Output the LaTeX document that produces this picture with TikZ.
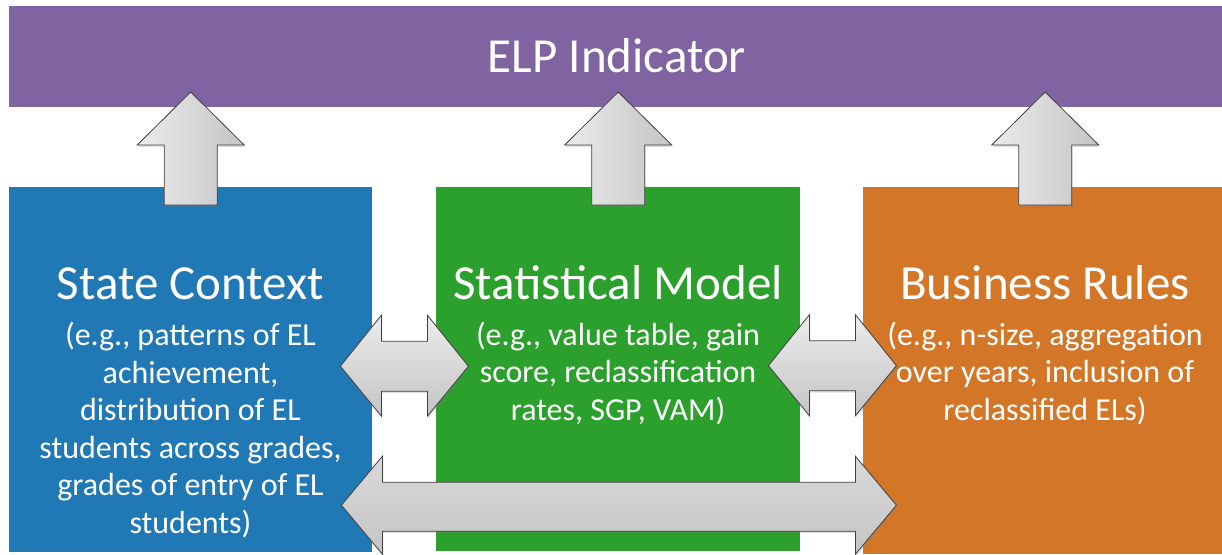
\documentclass[tikz,border=0pt]{standalone}
\usepackage{fontspec}
\setmainfont{Carlito}
\usepackage{tikz}
\usetikzlibrary{positioning}
\usetikzlibrary{shadows}
\definecolor{elppurple}{RGB}{128,100,162}
\definecolor{ctxblue}{RGB}{32,120,180}
\definecolor{modelgreen}{RGB}{44,160,45}
\definecolor{rulesorange}{RGB}{211,118,40}
\definecolor{arrowlight}{RGB}{236,236,236}
\definecolor{arrowdark}{RGB}{196,196,196}
\definecolor{arrowline}{RGB}{64,64,64}
\tikzset{
  box/.style={draw=none, inner sep=0pt, anchor=north west},
  titletext/.style={text=white, inner sep=0pt, anchor=base, font=\fontsize{49}{58}\selectfont},
  bodytext/.style={text=white, inner sep=0pt, anchor=base, align=center, font=\fontsize{32}{37.5}\selectfont},
  uparrow/.style={draw=arrowline, line width=0.8pt, line join=miter, left color=arrowlight, right color=arrowdark,
    drop shadow={opacity=0.25, shadow xshift=1pt, shadow yshift=-2pt}},
  sidearrow/.style={draw=arrowline, line width=0.8pt, line join=miter, top color=arrowlight, bottom color=arrowdark,
    drop shadow={opacity=0.25, shadow xshift=1pt, shadow yshift=-2pt}}
}

\begin{document}
\begin{tikzpicture}[x=1pt, y=-1pt]
  \useasboundingbox (0,0) rectangle (1222,554);

  % bar and the three boxes
  \node [box, fill=elppurple, minimum width=1213pt, minimum height=101pt] (elp) at (9,6) {};
  \node [box, fill=ctxblue, minimum width=363pt, minimum height=365pt] (ctx) at (9,187) {};
  \node [box, fill=modelgreen, minimum width=364pt, minimum height=364pt] (model) at (436,187) {};
  \node [box, fill=rulesorange, minimum width=359pt, minimum height=367pt] (rules) at (863,187) {};

  % up arrows
  \draw [uparrow] (ctx.north) ++(0,-95) -- ++(53.5,53) -- ++(-27,0) -- ++(0,60) -- ++(-53,0) -- ++(0,-60) -- ++(-27,0) -- cycle;
  \draw [uparrow] (model.north) ++(0,-95) -- ++(53.5,53) -- ++(-27,0) -- ++(0,60) -- ++(-53,0) -- ++(0,-60) -- ++(-27,0) -- cycle;
  \draw [uparrow] (rules.north) ++(2.5,-95) -- ++(53.5,53) -- ++(-27,0) -- ++(0,60) -- ++(-53,0) -- ++(0,-60) -- ++(-27,0) -- cycle;

  % double arrows between the boxes
  \draw [sidearrow] (ctx.east) ++(-32,-3.5) -- ++(41,-51) -- ++(0,26) -- ++(46,0) -- ++(0,-26) -- ++(41,51)
    -- ++(-41,50) -- ++(0,-25) -- ++(-46,0) -- ++(0,25) -- cycle;
  \draw [sidearrow] (model.east) ++(-32,-3.5) -- ++(41,-51) -- ++(0,26) -- ++(46,0) -- ++(0,-26) -- ++(41,51)
    -- ++(-41,50) -- ++(0,-25) -- ++(-46,0) -- ++(0,25) -- cycle;
  \draw [sidearrow] (ctx.east) ++(-31,135.5) -- ++(41,-49) -- ++(0,26) -- ++(473,0) -- ++(0,-26) -- ++(41,49)
    -- ++(-41,49) -- ++(0,-23) -- ++(-473,0) -- ++(0,23) -- cycle;

  % texts (body nodes sit on the baseline of their last line)
  \node [titletext] (elptitle) at (617,72) {ELP Indicator};
  \node [titletext] (ctxtitle) at (190.5,299) {State Context};
  \node [titletext] (modeltitle) at (618,299) {Statistical Model};
  \node [titletext] (rulestitle) at (1045,299) {Business Rules};
  \node [bodytext] (ctxbody) at (190.5,533) {(e.g., patterns of EL\\achievement,\\distribution of EL\\students across grades,\\grades of entry of EL\\students)};
  \node [bodytext] (modelbody) at (618,420) {(e.g., value table, gain\\score, reclassification\\rates, SGP, VAM)};
  \node [bodytext] (rulesbody) at (1045,420) {(e.g., n-size, aggregation\\over years, inclusion of\\reclassified ELs)};
\end{tikzpicture}
\end{document}
